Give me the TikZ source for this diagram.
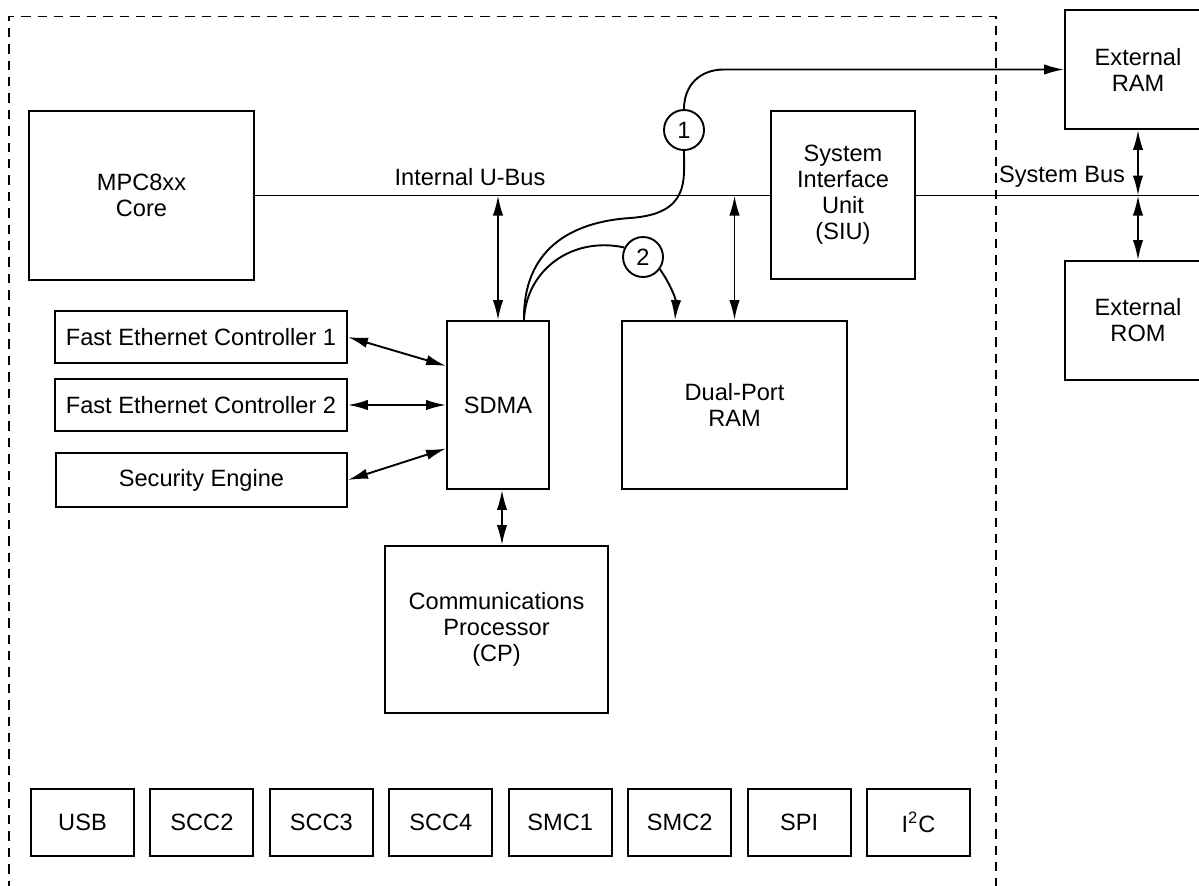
\documentclass[tikz,border=0pt]{standalone}
\usepackage{fontspec}
\setmainfont{Liberation Sans}
\usetikzlibrary{arrows.meta,calc}
\begin{document}
\begin{tikzpicture}[x=0.5pt,y=-0.5pt,
  txt/.style={font=\fontsize{11.8}{13}\selectfont},
  blk/.style={txt,draw,line width=0.95pt,align=center,inner sep=0pt},
  lbl/.style={txt,inner sep=0pt},
  num/.style={txt,draw,circle,line width=0.95pt,minimum size=20pt,inner sep=0pt,fill=white},
  conn/.style={line width=0.95pt},
  >={Latex[length=10pt,width=5.2pt]}
]
\useasboundingbox (0,0) rectangle (1199,885);
\clip (0,0) rectangle (1199,885);
% chip frame
\draw[line width=0.95pt,dash pattern=on 4.7pt off 3.5pt] (9,890) -- (9,16.5) -- (996,16.5) -- (996,890);
% blocks
\node[blk,minimum width=112.5pt,minimum height=84.5pt] (core) at (141.5,195.5) {MPC8xx\\Core};
\node[blk,minimum width=72pt,minimum height=84pt] (siu) at (843,195) {System\\Interface\\Unit\\(SIU)};
\node[blk,minimum width=73pt,minimum height=59.5pt] (ram) at (1138,69.5) {External\\RAM};
\node[blk,minimum width=73pt,minimum height=59.5pt] (rom) at (1138,320.5) {External\\ROM};
\node[blk,minimum width=51pt,minimum height=84pt] (sdma) at (498,405) {SDMA};
\node[blk,minimum width=112.5pt,minimum height=84pt] (dpram) at (734.5,405) {Dual-Port\\RAM};
\node[blk,minimum width=146pt,minimum height=26pt] (fec1) at (201,337) {Fast Ethernet Controller 1};
\node[blk,minimum width=146pt,minimum height=26pt] (fec2) at (201,405) {Fast Ethernet Controller 2};
\node[blk,minimum width=145.5pt,minimum height=27pt] (sec) at (201.5,480) {Security Engine};
\node[blk,minimum width=111.5pt,minimum height=83.5pt] (cp) at (496.5,629.5) {Communications\\Processor\\(CP)};
\foreach \t [count=\i] in {USB,SCC2,SCC3,SCC4,SMC1,SMC2,SPI,{I\textsuperscript{2}C}}
  \node[blk,minimum width=51.5pt,minimum height=33.5pt] (p\i) at ({82.5+119.43*(\i-1)},822.5) {\t};
% labels
\node[lbl] (ubus) at (470,177) {Internal U-Bus};
\node[lbl] (sbus) at (1062,177) {System Bus};
\node[num] (c1) at (684,130) {1};
\node[num] (c2) at (643,257) {2};
% coordinates
\coordinate (busend) at (1199,195.5);
\coordinate (dstart) at ($(sdma.north west)!0.75!(sdma.north east)$);
\coordinate (sc) at ($(sdma.south)+(4,0)$);
\coordinate (dpin) at ($(dpram.north west)+(54,0)$);
% buses
\draw[conn] (core.east) -- (core.east -| siu.west);
\draw[conn] (core.east -| siu.east) -- (busend);
\draw[conn,<->] (core.east -| sdma.north) -- (sdma.north);
\draw[conn,<->] (core.east -| dpram.north) -- (dpram.north);
\draw[conn,<->] (ram.south) -- (ram.south |- core.east);
\draw[conn,<->] (rom.north |- core.east) -- (rom.north);
% peripherals to SDMA
\draw[conn,<->] (fec1.east) -- ($(sdma.north west)!0.27!(sdma.south west)$);
\draw[conn,<->] (fec2.east) -- (sdma.west);
\draw[conn,<->] (sec.east) -- ($(sdma.north west)!0.756!(sdma.south west)$);
\draw[conn,<->] (sc) -- (sc |- cp.north);
% DMA paths
\draw[conn] (dstart) .. controls (523,250) and (570,222) .. (630,218)
  .. controls (690,214) and (684,180) .. (c1.south);
\draw[conn,->] (c1.north) .. controls (684,85) and (700,69.5) .. (724,69.5) -- (ram.west);
\draw[conn] (dstart) .. controls (526,270) and (572,236) .. (c2.153);
\draw[conn,->] (c2.-36) .. controls (671,285) and (676,300) .. (dpin);
\end{tikzpicture}
\end{document}
